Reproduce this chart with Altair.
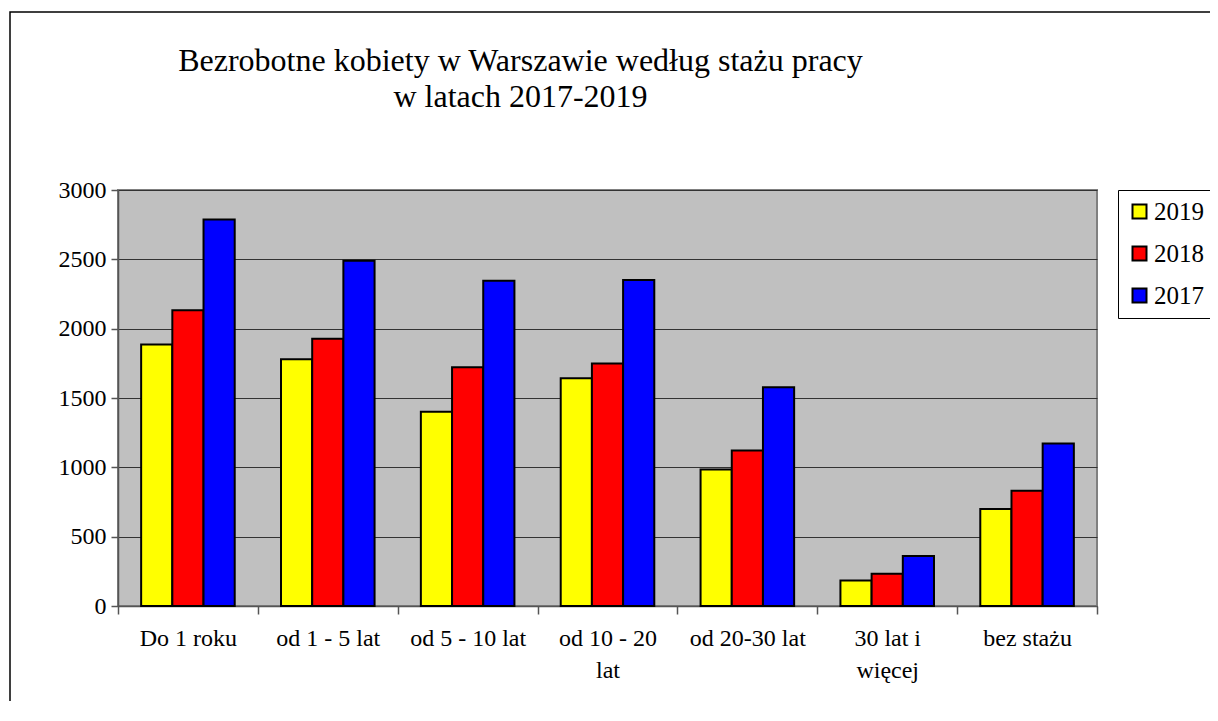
import altair as alt
import pandas as pd

categories = ["Do 1 roku", "od 1 - 5 lat", "od 5 - 10 lat", "od  10 - 20 lat",
              "od 20-30 lat", "30 lat i więcej", "bez stażu"]
years = ["2019", "2018", "2017"]
v2019 = [1885, 1780, 1400, 1643, 984, 184, 699]
v2018 = [2133, 1928, 1722, 1748, 1121, 233, 831]
v2017 = [2788, 2490, 2346, 2351, 1578, 360, 1172]
colors = ["#FFFF00", "#FF0000", "#0000FF"]
title_lines = ["Bezrobotne kobiety w Warszawie według stażu pracy", "w latach 2017-2019"]

rows = []
for yr, vals in zip(years, [v2019, v2018, v2017]):
    for c, v in zip(categories, vals):
        rows.append({"kategoria": c, "rok": yr, "liczba": v})
df = pd.DataFrame(rows)

FONT = "Liberation Serif"

label_expr = ("datum.label == 'od  10 - 20 lat' ? ['od  10 - 20', 'lat'] : "
              "datum.label == '30 lat i więcej' ? ['30 lat i', 'więcej'] : datum.label")

bars = alt.Chart(df).mark_bar(stroke="black", strokeWidth=2).encode(
    x=alt.X("kategoria:N", sort=categories, title=None,
            scale=alt.Scale(paddingInner=0, paddingOuter=0),
            axis=alt.Axis(labelAngle=0, labelExpr=label_expr, tickBand="extent",
                          labelLineHeight=32, labelPadding=12, tickSize=8,
                          labelLimit=200)),
    xOffset=alt.XOffset("rok:N", sort=years,
                        scale=alt.Scale(paddingInner=0, paddingOuter=0.742)),
    y=alt.Y("liczba:Q", title=None,
            scale=alt.Scale(domain=[0, 3000], nice=False),
            axis=alt.Axis(values=[0, 500, 1000, 1500, 2000, 2500, 3000],
                          format="d", grid=True, tickSize=7, labelPadding=5)),
    color=alt.Color("rok:N", sort=years,
                    scale=alt.Scale(domain=years, range=colors),
                    legend=alt.Legend(orient="none", legendX=1000, legendY=0,
                                      title=None, strokeColor="black",
                                      fillColor="white", padding=9,
                                      symbolType="square", symbolSize=196,
                                      symbolStrokeColor="black",
                                      symbolStrokeWidth=2,
                                      labelFont=FONT, labelFontSize=25,
                                      labelColor="black", rowPadding=16,
                                      labelOffset=2)),
)

frame = alt.Chart(pd.DataFrame({"a": [0]})).mark_rect(
    fillOpacity=0, stroke="black", strokeWidth=1.5
).encode(x=alt.value(-108), x2=alt.value(1300), y=alt.value(-178), y2=alt.value(800))

chart = alt.layer(frame, bars).properties(
    width=979, height=416,
    background="white",
    autosize=alt.AutoSizeParams(type="none"),
    padding={"left": 110, "top": 182, "right": 113, "bottom": 95},
    title=alt.TitleParams(text=title_lines, font=FONT, fontSize=32,
                          fontWeight="normal", color="black",
                          anchor="middle", frame="group", dx=-87,
                          offset=0, dy=128, lineHeight=36, baseline="alphabetic"),
).configure(
    font=FONT
).configure_view(
    fill="#C0C0C0", stroke="#808080", strokeWidth=2
).configure_axis(
    labelFont=FONT, labelFontSize=24, labelColor="black",
    domainColor="#555555", tickColor="#555555", gridColor="#333333",
    gridWidth=1, domainWidth=1.5, tickWidth=1.5
).configure_legend(
    labelFont=FONT
)

chart.save("out.html", embed_options={"renderer": "svg", "actions": False})
